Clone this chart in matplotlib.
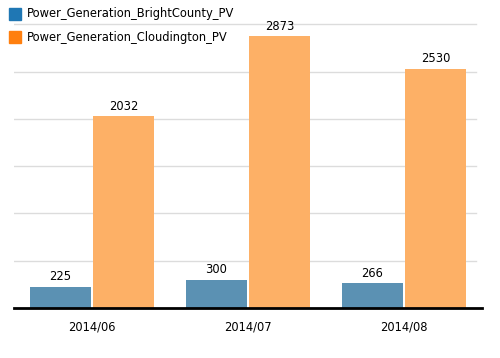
import matplotlib
matplotlib.use('Agg')
import matplotlib.pyplot as plt
import numpy as np

months = ['2014/06', '2014/07', '2014/08']
bright = [225, 300, 266]
cloud = [2032, 2873, 2530]
grid_vals = [500, 1000, 1500, 2000, 2500, 3000]
series_names = ['Power_Generation_BrightCounty_PV', 'Power_Generation_Cloudington_PV']

C_BLUE = '#5b91b3'; C_ORANGE = '#fdb066'
C_BLUE_KEY = '#1f77b4'; C_ORANGE_KEY = '#ff7f0e'
FS = 8.3

fig = plt.figure(figsize=(5.0, 3.58), dpi=100)
ax = fig.add_axes([0.028, 0.1397, 0.936, 0.832])

x = np.arange(len(months))
w = 0.385
off = 0.202
ax.bar(x - off, bright, w, color=C_BLUE, zorder=2)
ax.bar(x + off, cloud, w, color=C_ORANGE, zorder=2)

for xi, v in zip(x, bright):
    ax.text(xi - off, v + 35, str(v), ha='center', va='bottom', fontsize=FS)
for xi, v in zip(x, cloud):
    ax.text(xi + off, v + 35, str(v), ha='center', va='bottom', fontsize=FS)

for g in grid_vals:
    ax.axhline(g, xmin=0, xmax=462 / 468, color='#dcdcdc', lw=1, zorder=1)

ax.set_xlim(-0.5, 2.5)
ax.set_ylim(0, 3150)
ax.set_xticks(x)
ax.set_xticklabels(months, fontsize=FS)
ax.tick_params(axis='x', length=0, pad=9)
ax.set_yticks([])
for s in ['top', 'right', 'left']:
    ax.spines[s].set_visible(False)
ax.spines['bottom'].set_linewidth(2)
ax.spines['bottom'].set_color('black')

# legend drawn by hand in figure pixels
for i, (name, col) in enumerate(zip(series_names, [C_BLUE_KEY, C_ORANGE_KEY])):
    ytop = 8 + i * 23
    fig.patches.append(plt.Rectangle((9 / 500, 1 - (ytop + 12) / 358), 12 / 500, 12 / 358,
                                     transform=fig.transFigure, color=col, figure=fig))
    fig.text(27 / 500, 1 - (ytop + 6) / 358, name, fontsize=FS, va='center', ha='left')

fig.savefig('out.png', dpi=100)
